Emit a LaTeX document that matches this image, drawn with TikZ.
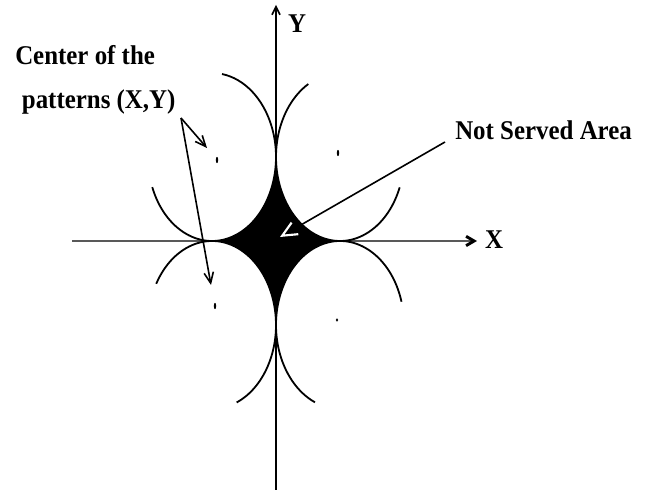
\documentclass[tikz,border=0pt]{standalone}
\usepackage{fontspec}
\setmainfont{Liberation Serif}[FakeStretch=0.92]
\usetikzlibrary{arrows.meta}
\begin{document}
\begin{tikzpicture}[x=0.75pt,y=0.75pt,
  lbl/.style={font=\fontsize{20.3pt}{33pt}\selectfont\bfseries, inner sep=0pt},
  axisY/.style={line width=1.2pt, -{Straight Barb[length=6pt,width=6pt]}},
  axisX/.style={line width=2.2pt, black!65, -{Straight Barb[length=6pt,width=7pt,black]}},
  ring/.style={line width=1.35pt},
  pointer/.style={line width=1.2pt, -{Straight Barb[length=8pt,width=7pt]}},
  whitepointer/.style={line width=1.2pt, -{Straight Barb[white,length=11pt,width=10pt,line width=1.6pt]}},
  centremark/.style={fill=black}
]
\useasboundingbox (0,0) rectangle (647,492);
% axes
\coordinate (ybot) at (276,2);
\coordinate (ytop) at (276,487);
\coordinate (xleft) at (72,251);
\coordinate (xright) at (477,251);
\draw[axisX] (xleft) -- (xright);
\draw[axisY] (ybot) -- (ytop);
\node[lbl] (ylab) at (297,468) {Y};
\node[lbl] (xlab) at (494,252) {X};
% pattern centres
\coordinate (cUL) at (212,335);
\coordinate (cUR) at (340,335);
\coordinate (cLL) at (212,167);
\coordinate (cLR) at (340,167);
% not served area
\fill[black] (212,251) arc[start angle=270,end angle=360,x radius=48pt,y radius=63pt]
  arc[start angle=180,end angle=270,x radius=48pt,y radius=63pt]
  arc[start angle=90,end angle=180,x radius=48pt,y radius=63pt]
  arc[start angle=0,end angle=90,x radius=48pt,y radius=63pt] -- cycle;
% coverage arcs
\draw[ring] ([shift={(201:48pt and 63pt)}]cUL) arc[start angle=201,end angle=441,x radius=48pt,y radius=63pt];
\draw[ring] ([shift={(119.7:48pt and 63pt)}]cUR) arc[start angle=119.7,end angle=338.8,x radius=48pt,y radius=63pt];
\draw[ring] ([shift={(150.6:48pt and 63pt)}]cLL) arc[start angle=150.6,end angle=-67.3,x radius=48pt,y radius=63pt];
\draw[ring] ([shift={(16.1:48pt and 63pt)}]cLR) arc[start angle=16.1,end angle=247,x radius=48pt,y radius=63pt];
% centre marks
\coordinate (mUL) at (217,332);
\coordinate (mUR) at (338,339);
\coordinate (mLL) at (215,186);
\coordinate (mLR) at (337,172);
\fill[centremark] (mUL) ellipse[x radius=0.9pt,y radius=2.3pt];
\fill[centremark] (mUR) ellipse[x radius=0.9pt,y radius=2.3pt];
\fill[centremark] (mLL) ellipse[x radius=0.9pt,y radius=2.3pt];
\fill[centremark] (mLR) ellipse[x radius=0.9pt,y radius=1.3pt];
% labels and pointers
\node[lbl, align=left, anchor=north west] (ctr) at (15,447) {Center of the\\\hspace*{5pt}patterns (X,Y)};
\coordinate (ctail) at (181,374);
\coordinate (tip1) at (207,344);
\coordinate (tip2) at (211,207);
\draw[pointer] (ctail) -- (tip1);
\draw[pointer] (ctail) -- (tip2);
\node[lbl, anchor=base west] (nsa) at (455,352) {Not Served Area};
\coordinate (nsatail) at (445,350);
\coordinate (nsatip) at (280,255);
\draw[whitepointer] (nsatail) -- (nsatip);
\end{tikzpicture}
\end{document}
